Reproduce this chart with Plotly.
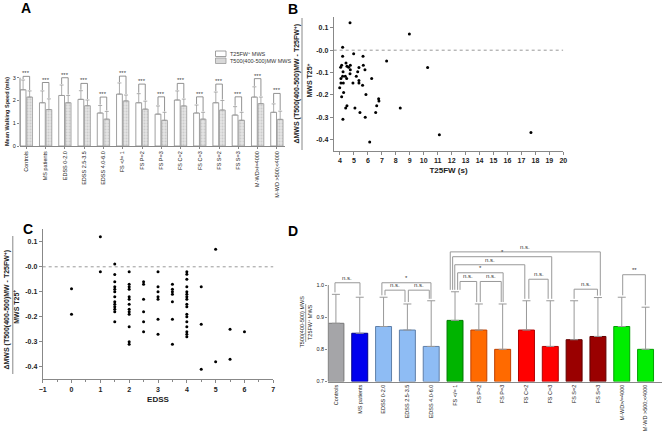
import plotly.graph_objects as go

W, H = 662, 433
FONT = "Liberation Sans, Arial, sans-serif"

# ---------------- Data ----------------
groups = ["Controls", "MS patients", "EDSS 0-2.0", "EDSS 2.5-3.5", "EDSS 4.0-6.0",
          "FS </= 1", "FS P=2", "FS P=3", "FS C=2", "FS C=3", "FS S=2", "FS S=3",
          "M-WD>/=4000", "M-WD >500;<4000"]

# Panel A: mean walking speed (m/s)
a_t25 = [2.47, 1.90, 2.22, 2.05, 1.45, 2.28, 1.90, 1.40, 2.02, 1.45, 1.90, 1.36, 2.15, 1.48]
a_t25_sd = [0.43, 0.52, 0.46, 0.38, 0.33, 0.49, 0.40, 0.36, 0.40, 0.35, 0.47, 0.37, 0.45, 0.37]
a_t500 = [2.15, 1.60, 1.90, 1.77, 1.18, 1.98, 1.62, 1.13, 1.76, 1.18, 1.58, 1.13, 1.86, 1.17]
a_t500_sd = [0.27, 0.47, 0.32, 0.25, 0.34, 0.26, 0.35, 0.35, 0.30, 0.30, 0.42, 0.35, 0.29, 0.36]
a_sig_level = [3.06, 2.79, 3.00, 2.75, 2.15, 3.07, 2.72, 2.16, 2.75, 2.16, 2.72, 2.16, 2.96, 2.31]
a_sig_label = ["***"] * 14

# Panel B: T25FW (s) vs relative change
b_t25fw = [4.72, 8.97, 4.19, 4.98, 5.65, 4.19, 7.34, 4.43, 4.12, 4.74, 5.67, 4.50, 4.05, 4.62,
           5.36, 10.28, 4.74, 5.79, 4.22, 5.27, 4.72, 4.19, 4.38, 5.17, 4.07, 4.48, 6.27, 5.36,
           5.36, 4.07, 4.24, 4.93, 5.62, 3.98, 4.26, 5.86, 4.12, 6.77, 6.79, 6.63, 4.50, 4.41,
           5.07, 8.32, 6.56, 5.43, 5.81, 4.21, 11.12, 17.68, 6.13]
b_delta = [0.123, 0.073, 0.013, -0.016, -0.027, -0.027, -0.048, -0.057, -0.067, -0.067, -0.067,
           -0.072, -0.076, -0.076, -0.078, -0.078, -0.088, -0.088, -0.097, -0.097, -0.106, -0.117,
           -0.117, -0.117, -0.127, -0.127, -0.127, -0.136, -0.147, -0.147, -0.147, -0.147, -0.157,
           -0.168, -0.189, -0.198, -0.208, -0.217, -0.228, -0.249, -0.249, -0.259, -0.259, -0.259,
           -0.279, -0.279, -0.300, -0.309, -0.379, -0.369, -0.411]

# Panel C: EDSS vs relative change
c_edss = ([0, 0] + [1, 1] + [1.5] * 13 + [2] * 13 + [2.5] * 6 + [3] * 7 + [3.5] * 7 +
          [4] * 17 + [4.5] * 3 + [5] * 2 + [5.5] * 2 + [6])
c_delta = ([-0.088, -0.19] + [0.12, -0.02] +
           [0.011, -0.031, -0.06, -0.08, -0.09, -0.10, -0.12, -0.14, -0.15, -0.16, -0.17, -0.18, -0.22] +
           [-0.02, -0.07, -0.08, -0.09, -0.12, -0.13, -0.15, -0.17, -0.18, -0.19, -0.24, -0.30, -0.31] +
           [-0.06, -0.07, -0.13, -0.18, -0.22, -0.26] +
           [-0.02, -0.08, -0.10, -0.12, -0.13, -0.21, -0.27] +
           [-0.07, -0.09, -0.10, -0.11, -0.14, -0.21, -0.31] +
           [-0.02, -0.03, -0.05, -0.08, -0.10, -0.11, -0.12, -0.13, -0.15, -0.16, -0.19, -0.20,
            -0.22, -0.24, -0.26, -0.27, -0.28] +
           [-0.08, -0.23, -0.41] + [0.07, -0.38] + [-0.25, -0.37] + [-0.26])

# Panel D: ratio T500 MWS / T25FW MWS
d_ratio = [0.881, 0.850, 0.871, 0.860, 0.809, 0.890, 0.860, 0.800, 0.860, 0.809, 0.830, 0.840, 0.871, 0.800]
d_sd = [0.090, 0.112, 0.091, 0.081, 0.142, 0.089, 0.081, 0.141, 0.091, 0.142, 0.121, 0.121, 0.091, 0.131]
# comparisons: (left x, right x, level, label)
d_sig = [(-0.04, 1.01, 1.007, "n.s."), (1.93, 3.99, 1.007, "*"), (2.06, 2.90, 0.984, "n.s."),
         (3.04, 3.92, 0.984, "n.s."), (4.80, 11.10, 1.103, "n.s."), (4.90, 9.06, 1.088, "*"),
         (4.99, 7.93, 1.063, "n.s."), (5.11, 7.02, 1.038, "*"), (5.21, 5.91, 1.011, "n.s."),
         (6.06, 6.94, 1.011, "n.s."), (8.10, 8.91, 1.018, "n.s."), (10.0, 10.98, 0.987, "n.s."),
         (12.04, 12.99, 1.032, "**")]

# Styles
d_fill = ["#a5a5a8", "#0000ee", "#8ebcf4", "#8ebcf4", "#8ebcf4", "#00b400", "#ff6a00", "#ff6a00",
          "#ff0000", "#ff0000", "#9a0000", "#9a0000", "#00ee00", "#00ee00"]
d_edge = ["#777777", "#00008b", "#5f7fa8", "#5f7fa8", "#5f7fa8", "#007a00", "#c04000", "#c04000",
          "#b00000", "#b00000", "#600000", "#600000", "#00a000", "#00a000"]


def px_x(p):
    return p / W


def px_y(p):
    return 1 - p / H


def note(x, y, text, size, color="#222", angle=0, xref="paper", yref="paper", **kw):
    d = dict(x=x, y=y, xref=xref, yref=yref, text=text, showarrow=False, textangle=angle,
             xanchor="center", yanchor="middle", font=dict(size=size, color=color, family=FONT))
    d.update(kw)
    return d


idx = list(range(len(groups)))
fig = go.Figure()

# ---- Panel A bars ----
fig.add_trace(go.Bar(
    x=idx, y=a_t25, width=0.30, offset=-0.32, name="T25FW+ MWS",
    marker=dict(color="white", line=dict(color="#888888", width=0.8)),
    error_y=dict(type="data", symmetric=False, array=a_t25_sd, arrayminus=[0] * 14,
                 color="#999999", thickness=0.8, width=2),
    xaxis="x", yaxis="y", showlegend=False))
fig.add_trace(go.Bar(
    x=idx, y=a_t500, width=0.30, offset=0.02, name="T500(400-500)MW MWS",
    marker=dict(color="#e2e2e2", line=dict(color="#999999", width=0.8),
                pattern=dict(shape=".", fgcolor="#b0b0b0", bgcolor="#e6e6e6", size=3, solidity=0.4)),
    error_y=dict(type="data", symmetric=False, array=a_t500_sd, arrayminus=[0] * 14,
                 color="#999999", thickness=0.8, width=2),
    xaxis="x", yaxis="y", showlegend=False))

shapes = []
annotations = []

# Panel A brackets
for i in idx:
    x1, x2 = i - 0.17, i + 0.17
    lev = a_sig_level[i]
    yb1 = a_t25[i] + a_t25_sd[i] + 0.04
    yb2 = a_t500[i] + a_t500_sd[i] + 0.04
    shapes.append(dict(type="path", xref="x", yref="y",
                       path=f"M {x1},{yb1} L {x1},{lev} L {x2},{lev} L {x2},{yb2}",
                       line=dict(color="#777777", width=0.8)))
    annotations.append(note(i, lev, a_sig_label[i], 6, "#444", xref="x", yref="y", yshift=3))
# A y axis line 0..3
shapes.append(dict(type="line", xref="x domain", yref="y", x0=0, x1=0, y0=0, y1=3,
                   line=dict(color="#888888", width=1)))
# A legend (manual)
shapes.append(dict(type="rect", xref="paper", yref="paper", x0=px_x(215.5), x1=px_x(226),
                   y0=px_y(56.5), y1=px_y(51), line=dict(color="#888", width=0.8), fillcolor="white"))
shapes.append(dict(type="rect", xref="paper", yref="paper", x0=px_x(215.5), x1=px_x(226),
                   y0=px_y(63.5), y1=px_y(58), line=dict(color="#999", width=0.8), fillcolor="#d8d8d8"))
annotations.append(note(px_x(227.5), px_y(53.8), "T25FW<sup>+</sup> MWS", 5.5, "#333", xanchor="left"))
annotations.append(note(px_x(227.5), px_y(60.8), "T500(400-500)MW MWS", 5.5, "#333", xanchor="left"))
annotations.append(note(px_x(7), px_y(112), "<b>Mean Walking Speed (m/s)</b>", 5.5, angle=-90))

# ---- Panel B ----
fig.add_trace(go.Scatter(x=b_t25fw, y=b_delta, mode="markers", xaxis="x2", yaxis="y2",
                         marker=dict(color="black", size=3), showlegend=False))
shapes.append(dict(type="line", xref="x2", yref="y2", x0=3.55, x1=20, y0=0, y1=0,
                   line=dict(color="#999999", width=1, dash="dot")))

# ---- Panel C ----
fig.add_trace(go.Scatter(x=c_edss, y=c_delta, mode="markers", xaxis="x3", yaxis="y3",
                         marker=dict(color="black", size=3), showlegend=False))
shapes.append(dict(type="line", xref="x3", yref="y3", x0=-1, x1=7.1, y0=0, y1=0,
                   line=dict(color="#999999", width=1, dash="dot")))

# y titles for B and C (fraction style)
for (xn, xl, xd, yc, y0l, y1l) in [(296.5, 302, 309.5, 84, 18, 150), (6.5, 12.8, 15.8, 310, 236, 374)]:
    annotations.append(note(px_x(xn), px_y(yc), "<b>ΔMWS (T500(400-500)MW - T25FW<sup>+</sup>)</b>",
                            7, angle=-90))
    annotations.append(note(px_x(xd), px_y(yc - 3), "<b>MWS T25<sup>+</sup></b>", 7, angle=-90))
    shapes.append(dict(type="line", xref="paper", yref="paper", x0=px_x(xl), x1=px_x(xl),
                       y0=px_y(y0l), y1=px_y(y1l), line=dict(color="#888", width=1)))

# ---- Panel D ----
fig.add_trace(go.Bar(
    x=idx, y=[r - 0.7 for r in d_ratio], base=0.7, width=0.67, xaxis="x4", yaxis="y4",
    marker=dict(color=d_fill, line=dict(color=d_edge, width=1)),
    error_y=dict(type="data", symmetric=False, array=d_sd, arrayminus=[0] * 14,
                 color="#999999", thickness=1, width=4),
    showlegend=False))
for (xa, xb, lev, lab) in d_sig:
    ia, ib = int(round(xa)), int(round(xb))
    ya = d_ratio[ia] + d_sd[ia] + 0.006
    yb = d_ratio[ib] + d_sd[ib] + 0.006
    shapes.append(dict(type="path", xref="x4", yref="y4",
                       path=f"M {xa},{ya} L {xa},{lev} L {xb},{lev} L {xb},{yb}",
                       line=dict(color="#999999", width=1)))
    annotations.append(note((xa + xb) / 2, lev, lab, 6, "#333", xref="x4", yref="y4", yshift=5))
shapes.append(dict(type="line", xref="x4 domain", yref="y4", x0=0, x1=0, y0=0.7, y1=1.0,
                   line=dict(color="#888888", width=1)))
annotations.append(note(px_x(301.5), px_y(322), "T500(400-500) MWS", 5.5, angle=-90))
annotations.append(note(px_x(310), px_y(322), "T25FW<sup>+</sup> MWS", 5.5, angle=-90))
shapes.append(dict(type="line", xref="paper", yref="paper", x0=px_x(305.7), x1=px_x(305.7),
                   y0=px_y(304), y1=px_y(342), line=dict(color="#888", width=0.8)))

# panel letters
for lab, xp, yp in [("A", 26, 8), ("B", 293, 9), ("C", 28, 229), ("D", 293, 231)]:
    annotations.append(note(px_x(xp), px_y(yp), f"<b>{lab}</b>", 14, "black"))

common = dict(showgrid=False, zeroline=False, tickcolor="#888888", linewidth=1, automargin=False)
bold7 = dict(size=7, color="#222", family=FONT, weight="bold")
small = dict(size=5.5, color="#222", family=FONT)

fig.update_layout(
    width=W, height=H, margin=dict(l=0, r=0, t=0, b=0, autoexpand=False),
    paper_bgcolor="white", plot_bgcolor="white",
    font=dict(family=FONT),
    showlegend=False, shapes=shapes, annotations=annotations,
    xaxis=dict(domain=[px_x(20), px_x(285)], range=[-0.33, 13.42], anchor="y",
               tickvals=idx, ticktext=groups, tickangle=-90, ticks="outside", ticklen=2,
               tickfont=small, showline=True, linecolor="#888888", **common),
    yaxis=dict(domain=[px_y(146), px_y(70.9)], range=[0, 3.3], anchor="x", tickvals=[0, 1, 2, 3],
               ticks="outside", ticklen=2, tickfont=small, showline=False, **common),
    xaxis2=dict(domain=[px_x(333.7), px_x(563.3)], range=[3.55, 20], anchor="y2",
                tickvals=list(range(4, 21)), ticks="outside", ticklen=3, tickfont=bold7,
                showline=True, linecolor="#888888",
                title=dict(text="T25FW (s)", font=dict(size=8, color="#222", family=FONT, weight="bold"),
                           standoff=4), **common),
    yaxis2=dict(domain=[px_y(150.7), px_y(16.7)], range=[-0.45, 0.15], anchor="x2",
                tickvals=[0.1, 0, -0.1, -0.2, -0.3, -0.4],
                ticktext=["0.1", "-0.0", "-0.1", "-0.2", "-0.3", "-0.4"],
                ticks="outside", ticklen=3, tickfont=bold7, showline=True, linecolor="#888888", **common),
    xaxis3=dict(domain=[px_x(42.7), px_x(273.3)], range=[-1, 7], anchor="y3",
                tickvals=list(range(-1, 8)), ticks="outside", ticklen=3, tickfont=bold7,
                showline=True, linecolor="#888888",
                minor=dict(dtick=0.5, tick0=-1, ticklen=2, tickcolor="#888888", ticks="outside"),
                title=dict(text="EDSS", font=dict(size=8, color="#222", family=FONT, weight="bold"),
                           standoff=4), **common),
    yaxis3=dict(domain=[px_y(379.3), px_y(229.3)], range=[-0.45, 0.15], anchor="x3",
                tickvals=[0.1, 0, -0.1, -0.2, -0.3, -0.4],
                ticktext=["0.1", "-0.0", "-0.1", "-0.2", "-0.3", "-0.4"],
                ticks="outside", ticklen=3, tickfont=bold7, showline=True, linecolor="#888888", **common),
    xaxis4=dict(domain=[px_x(328.3), 1.0], range=[-0.32, 13.69], anchor="y4",
                tickvals=idx, ticktext=groups, tickangle=-90, ticks="",
                tickfont=small, showline=True, linecolor="#888888", **common),
    yaxis4=dict(domain=[px_y(381.5), px_y(243.2)], range=[0.7, 1.13], anchor="x4",
                tickvals=[0.7, 0.8, 0.9, 1.0], ticktext=["0.7", "0.8", "0.9", "1.0"],
                ticks="outside", ticklen=2, tickfont=small, showline=False, **common),
)

fig.write_html("out.html", config={"displayModeBar": False},
               post_script="document.body.style.margin='0px';")
